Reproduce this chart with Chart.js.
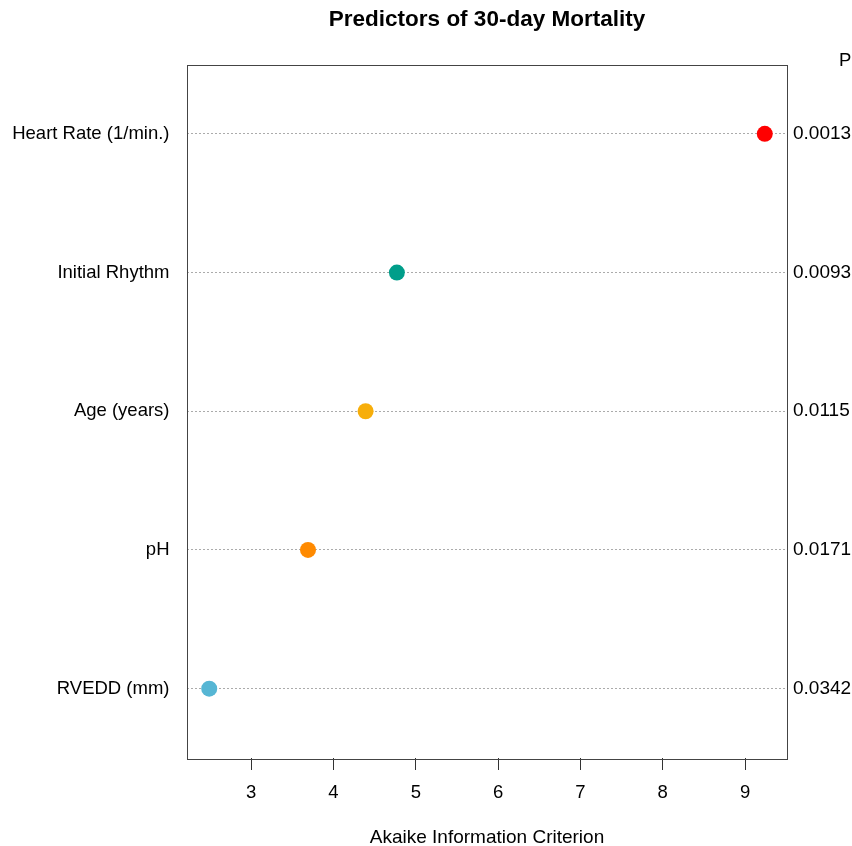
<!DOCTYPE html>
<html>
<head>
<meta charset="utf-8">
<script src="https://cdn.jsdelivr.net/npm/chart.js@4/dist/chart.umd.min.js"></script>
<style>
  body { margin: 0; background: #fff; }
</style>
</head>
<body>
<canvas id="myChart" width="852" height="846"></canvas>
<script>
// predictors, top to bottom
var predictors = ['Heart Rate (1/min.)', 'Initial Rhythm', 'Age (years)', 'pH', 'RVEDD (mm)'];
var aicValues = [9.24, 4.77, 4.39, 3.69, 2.49];
var pValues = ['0.0013', '0.0093', '0.0115', '0.0171', '0.0342'];
var dotColors = ['#FF0000', '#009E8A', '#F7AE0A', '#FF8A00', '#56B6D4'];
var xTicks = [3, 4, 5, 6, 7, 8, 9];

var fontFamily = '"Liberation Sans", Arial, Helvetica, sans-serif';

// plot frame + "P" header over the right column
var framePlugin = {
  id: 'frame',
  beforeDatasetsDraw: function(chart) {
    var a = chart.chartArea, ctx = chart.ctx;
    ctx.save();
    ctx.strokeStyle = '#444';
    ctx.lineWidth = 1;
    ctx.strokeRect(Math.round(a.left) + 0.5, Math.round(a.top) + 0.5,
      Math.round(a.right - a.left), Math.round(a.bottom - a.top));
    ctx.restore();
  },
  afterDraw: function(chart) {
    var a = chart.chartArea, ctx = chart.ctx;
    ctx.save();
    ctx.fillStyle = '#000';
    ctx.font = '18.5px ' + fontFamily;
    ctx.textAlign = 'left';
    ctx.textBaseline = 'alphabetic';
    ctx.fillText('P', a.right + 52, a.top + 1);
    ctx.restore();
  }
};

function categoryTicks(scale) {
  scale.ticks = predictors.map(function(p, i) { return { value: i + 1 }; });
}

var points = aicValues.map(function(v, i) { return { x: v, y: i + 1 }; });

var ctx = document.getElementById('myChart').getContext('2d');
var myChart = new Chart(ctx, {
  type: 'scatter',
  data: {
    datasets: [{
      label: 'AIC',
      data: points,
      backgroundColor: dotColors,
      borderWidth: 0,
      pointRadius: 8,
      pointHoverRadius: 8,
      yAxisID: 'y'
    }]
  },
  options: {
    responsive: false,
    animation: false,
    layout: { padding: 0 },
    plugins: {
      legend: { display: false },
      tooltip: { enabled: false },
      title: {
        display: true,
        fullSize: false, // centre over the plot area, like R's main title
        text: 'Predictors of 30-day Mortality',
        color: '#000',
        font: { family: fontFamily, size: 22.5, weight: 'bold' },
        padding: { top: 6.5, bottom: 31 }
      }
    },
    scales: {
      x: {
        type: 'linear',
        position: 'bottom',
        min: 2.22,
        max: 9.51,
        afterBuildTicks: function(scale) {
          scale.ticks = xTicks.map(function(t) { return { value: t }; });
        },
        afterFit: function(scale) { scale.height = 88; },
        grid: {
          display: true,
          drawOnChartArea: false,
          drawTicks: true,
          tickLength: 12,
          tickColor: '#333',
          tickWidth: 1
        },
        border: { display: false },
        ticks: {
          color: '#000',
          padding: 12,
          maxRotation: 0,
          font: { family: fontFamily, size: 18.5 }
        },
        title: {
          display: true,
          text: 'Akaike Information Criterion',
          color: '#000',
          font: { family: fontFamily, size: 19 },
          padding: { top: 0, bottom: -3 }
        }
      },
      y: {
        type: 'linear',
        position: 'left',
        min: 0.5,
        max: 5.5,
        reverse: true,
        afterBuildTicks: categoryTicks,
        afterFit: function(scale) { scale.width = 187; },
        grid: {
          display: true,
          drawOnChartArea: true,
          drawTicks: false,
          color: '#ABABAB',
          lineWidth: 1
        },
        border: { display: false, dash: [2, 2] },
        ticks: {
          color: '#000',
          padding: 17.5,
          font: { family: fontFamily, size: 18.5 },
          callback: function(value) { return predictors[value - 1]; }
        }
      },
      yP: {
        type: 'linear',
        position: 'right',
        display: true,
        min: 0.5,
        max: 5.5,
        reverse: true,
        afterBuildTicks: categoryTicks,
        afterFit: function(scale) { scale.width = 65; },
        grid: { display: false, drawTicks: false },
        border: { display: false },
        ticks: {
          color: '#000',
          padding: 6,
          font: { family: fontFamily, size: 19 },
          callback: function(value) { return pValues[value - 1]; }
        }
      }
    }
  },
  plugins: [framePlugin]
});
</script>
</body>
</html>
